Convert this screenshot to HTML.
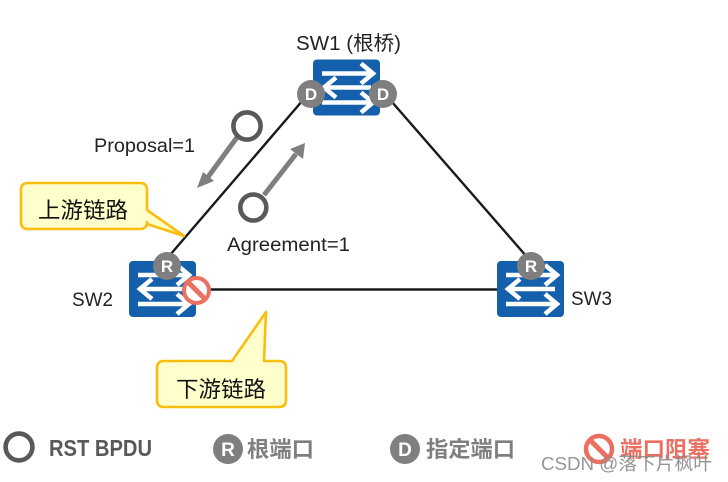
<!DOCTYPE html>
<html><head><meta charset="utf-8"><style>
html,body{margin:0;padding:0;background:#fff;width:728px;height:482px;overflow:hidden}
svg{display:block}
text{font-family:"Liberation Sans","Noto Sans CJK SC",sans-serif}
</style></head><body>
<svg width="728" height="482" viewBox="0 0 728 482" xmlns="http://www.w3.org/2000/svg">
<defs>
<g id="sw">
<rect x="0" y="0" width="67" height="56" rx="4" fill="#1460ac"/>
<g fill="none" stroke="#fff" stroke-width="4.5">
<path d="M9 14H59"/><path d="M48 4L60 14L48 24"/>
<path d="M58 28H12"/><path d="M23 18L11 28L23 38"/>
<path d="M9 43H59"/><path d="M48 33L60 43L48 53"/>
</g>
</g>
</defs>
<g stroke="#1a1a1a" stroke-width="2.4" fill="none">
<path d="M303 100L170 255"/>
<path d="M392 102L527 257"/>
<path d="M196 289.5H498"/>
</g>
<use href="#sw" x="313" y="59.5"/>
<use href="#sw" x="129" y="261"/>
<use href="#sw" x="497" y="261"/>
<g fill="#7f7f7f">
<circle cx="311" cy="94" r="14"/><circle cx="383" cy="94" r="14"/>
<circle cx="167" cy="266" r="14"/><circle cx="531" cy="266" r="14"/>
</g>
<g fill="#fff" font-size="17" font-weight="bold" text-anchor="middle">
<text x="311" y="100">D</text><text x="383" y="100">D</text>
<text x="167" y="272">R</text><text x="531" y="272">R</text>
</g>
<circle cx="196.5" cy="290.5" r="12.5" fill="#fff" stroke="#ec6f61" stroke-width="4"/>
<path d="M187.5 281.5L205.5 299.5" stroke="#ec6f61" stroke-width="5"/>
<text x="296" y="50" font-size="20" fill="#222" textLength="105" lengthAdjust="spacingAndGlyphs">SW1 (根桥)</text>
<text x="72" y="306" font-size="19" fill="#222" textLength="41" lengthAdjust="spacingAndGlyphs">SW2</text>
<text x="571" y="305" font-size="19" fill="#222" textLength="41" lengthAdjust="spacingAndGlyphs">SW3</text>
<text x="94" y="152" font-size="19" fill="#222" textLength="101" lengthAdjust="spacingAndGlyphs">Proposal=1</text>
<text x="227" y="251" font-size="19" fill="#222" textLength="123" lengthAdjust="spacingAndGlyphs">Agreement=1</text>
<g stroke="#7f7f7f" stroke-width="5" fill="none">
<path d="M238 136L208 177"/>
<path d="M264 195L296 154"/>
</g>
<path d="M197 188L203 172L214 181Z" fill="#7f7f7f"/>
<path d="M305 143L303 159L290 149Z" fill="#7f7f7f"/>
<g fill="#fff" stroke="#595959" stroke-width="4.6">
<circle cx="247" cy="126" r="13.6"/>
<circle cx="253.3" cy="207.5" r="13"/>
</g>
<g fill="#ffffcc" stroke="#fbbd0e" stroke-width="2.6" stroke-linejoin="round">
<path d="M28 183H140Q147 183 147 190V210L184 236L147 224V222Q147 229 140 229H28Q21 229 21 222V190Q21 183 28 183Z"/>
<path d="M164 361H232L266 312L264 361H279Q286 361 286 368V400Q286 407 279 407H164Q157 407 157 400V368Q157 361 164 361Z"/>
</g>
<text x="38" y="218" font-size="22" fill="#111" textLength="90" lengthAdjust="spacingAndGlyphs">上游链路</text>
<text x="176" y="397" font-size="22" fill="#111" textLength="90" lengthAdjust="spacingAndGlyphs">下游链路</text>
<circle cx="19" cy="447" r="13.4" fill="none" stroke="#595959" stroke-width="4.6"/>
<text x="49" y="456" font-size="23" font-weight="bold" fill="#595959" textLength="103" lengthAdjust="spacingAndGlyphs">RST BPDU</text>
<circle cx="228" cy="449" r="15" fill="#7f7f7f"/>
<text x="228" y="456" font-size="19" font-weight="bold" fill="#fff" text-anchor="middle">R</text>
<text x="247" y="457" font-size="22" font-weight="bold" fill="#7f7f7f" textLength="67" lengthAdjust="spacingAndGlyphs">根端口</text>
<circle cx="405" cy="449" r="15" fill="#7f7f7f"/>
<text x="405" y="456" font-size="19" font-weight="bold" fill="#fff" text-anchor="middle">D</text>
<text x="426" y="457" font-size="22" font-weight="bold" fill="#7f7f7f" textLength="89" lengthAdjust="spacingAndGlyphs">指定端口</text>
<circle cx="599" cy="449" r="13" fill="#fff" stroke="#ec6f61" stroke-width="4.5"/>
<path d="M590 440L608 458" stroke="#ec6f61" stroke-width="5"/>
<text x="620" y="457" font-size="22" font-weight="bold" fill="#ec6f61" textLength="90" lengthAdjust="spacingAndGlyphs">端口阻塞</text>
<text x="541" y="470" font-size="18" fill="#8a8a8a" fill-opacity="0.9" textLength="171" lengthAdjust="spacingAndGlyphs">CSDN @落下片枫叶</text>
</svg>
</body></html>
